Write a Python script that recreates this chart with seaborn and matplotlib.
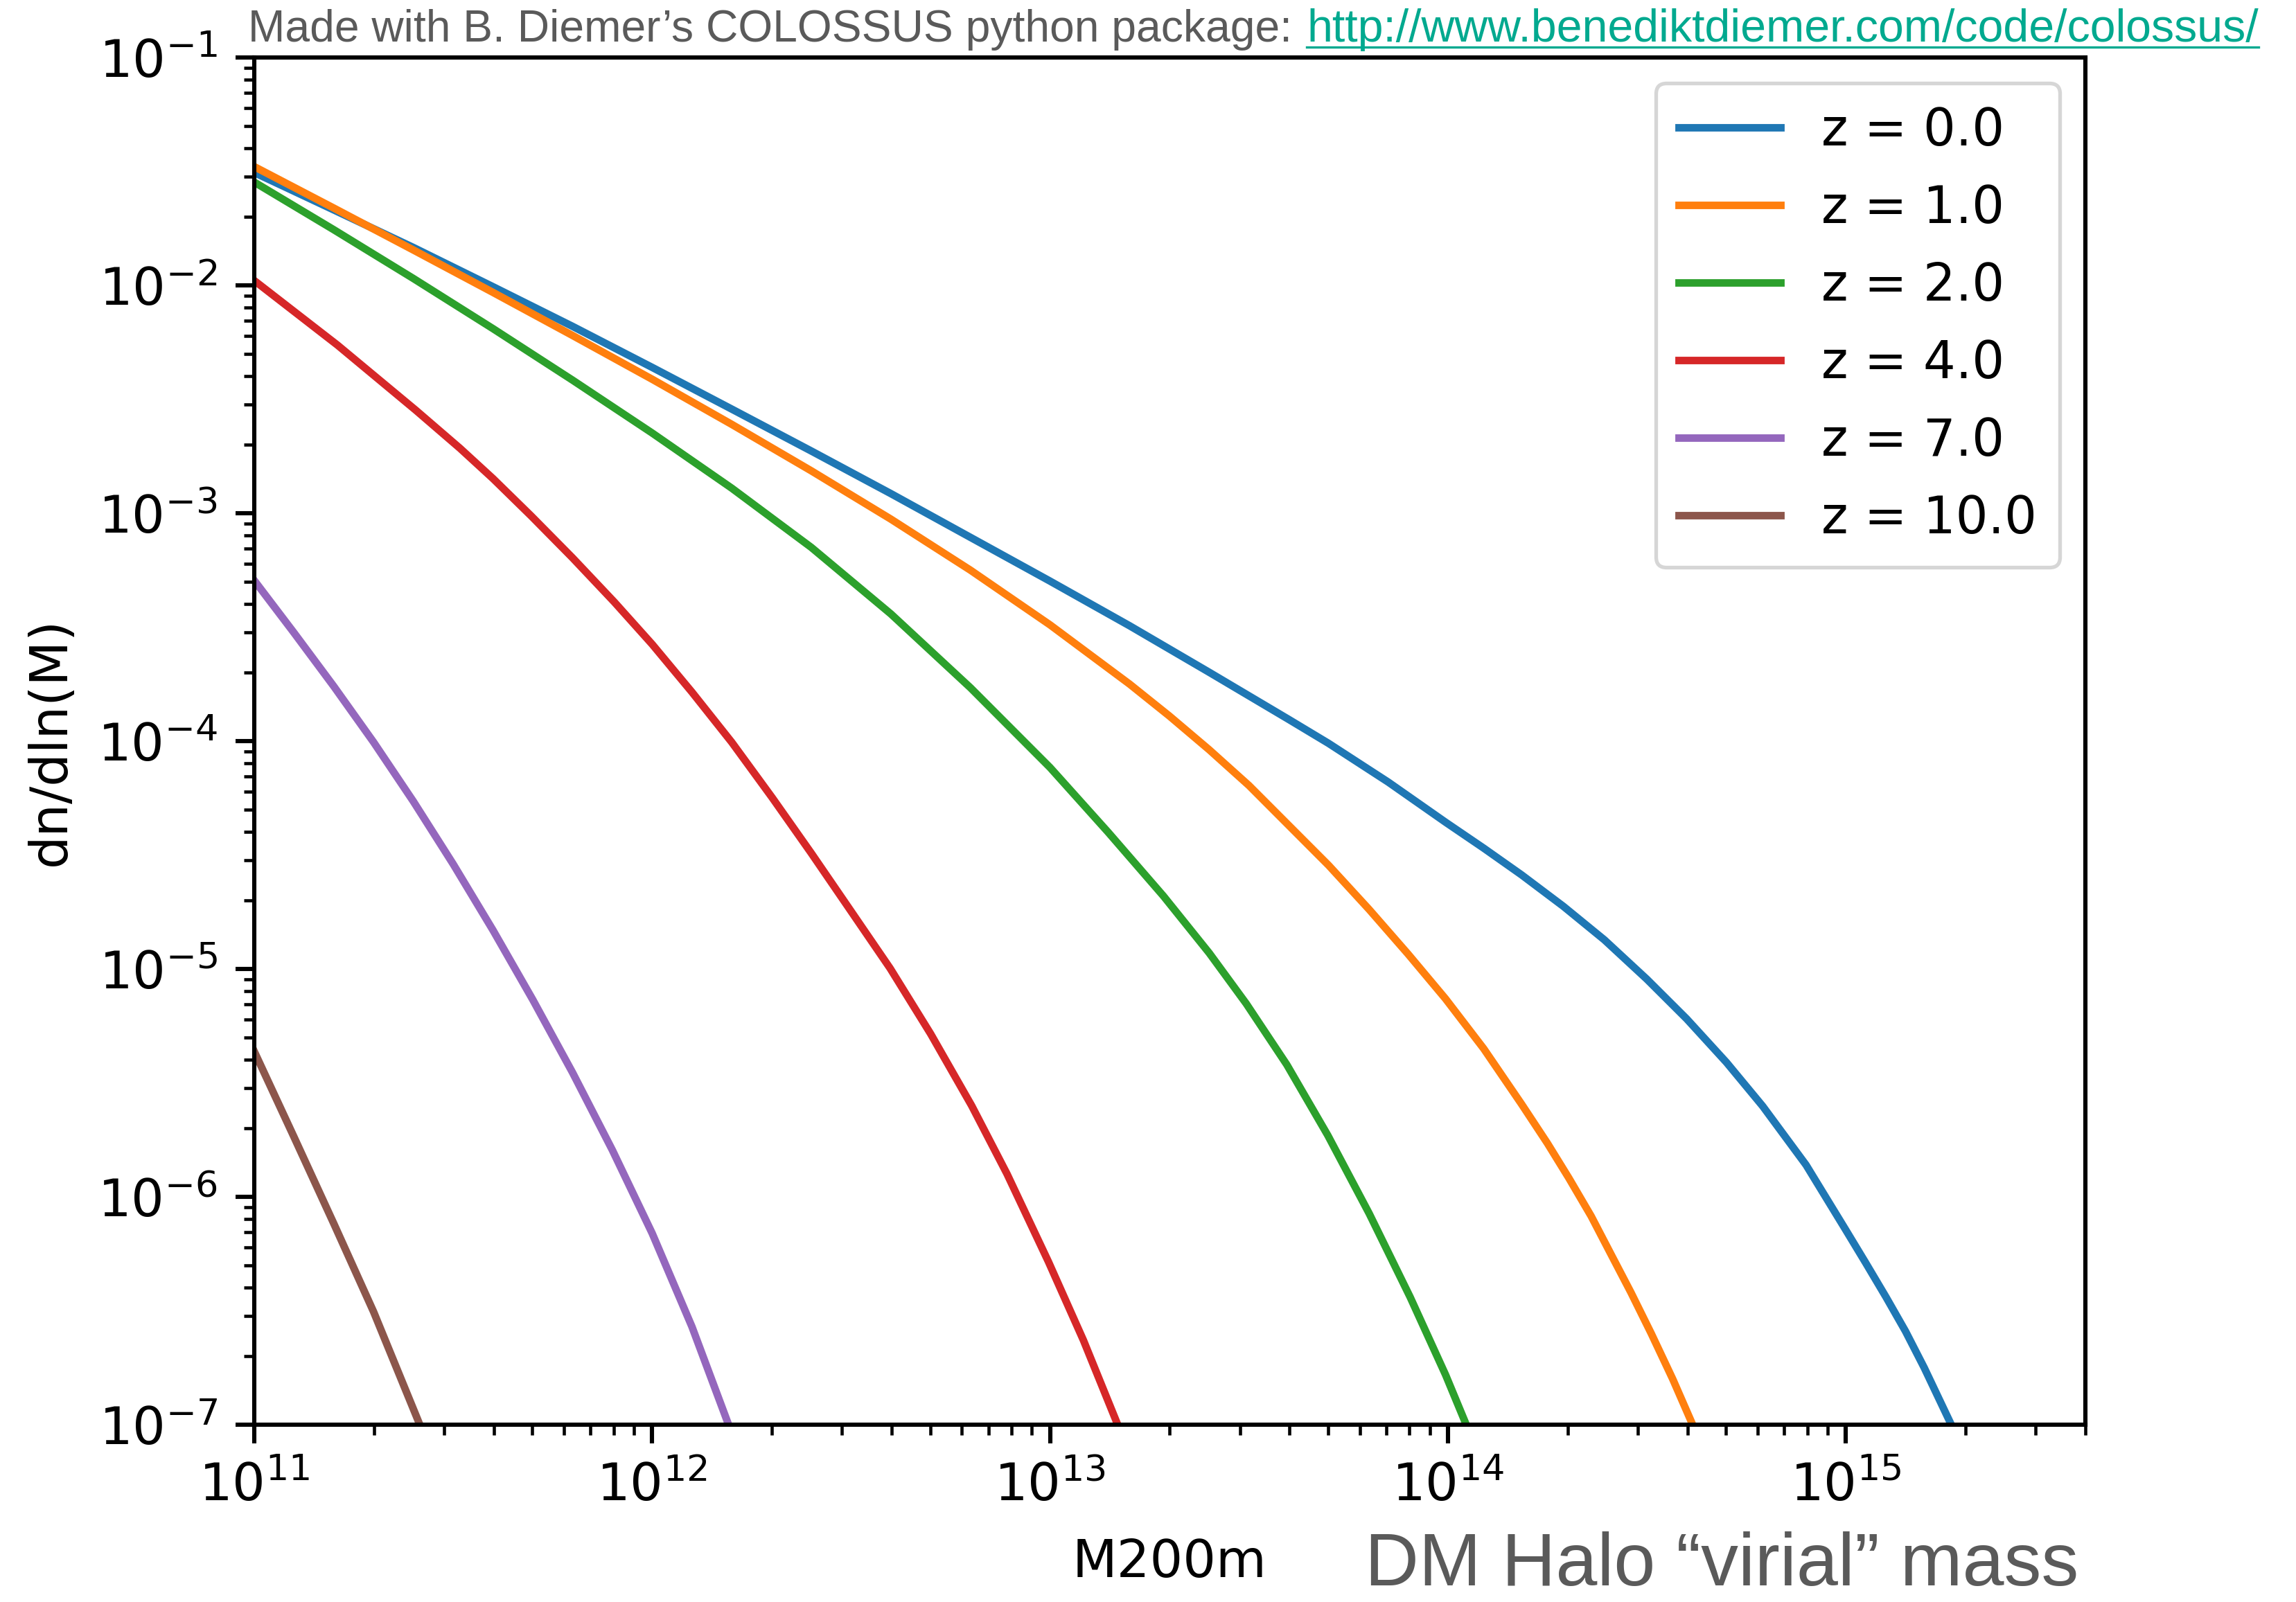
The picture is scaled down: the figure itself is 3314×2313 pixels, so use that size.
import numpy as np
import pandas as pd
import matplotlib
matplotlib.use("Agg")
import matplotlib.pyplot as plt
import seaborn as sns
from matplotlib.lines import Line2D

# ---------------- data (log10 values) ----------------
z_labels = ["z = 0.0", "z = 1.0", "z = 2.0", "z = 4.0", "z = 7.0", "z = 10.0"]
line_colors = ["#1f77b4", "#ff7f0e", "#2ca02c", "#d62728", "#9467bd", "#8c564b"]

logM_z0 = [11.0, 11.2, 11.4, 11.6, 11.8, 12.0, 12.2, 12.4, 12.6, 12.8, 13.0, 13.2, 13.4,
           13.6, 13.7, 13.85, 13.994, 14.09, 14.185, 14.29, 14.393, 14.5, 14.6, 14.7,
           14.791, 14.9, 14.998, 15.05, 15.101, 15.15, 15.197, 15.265]
logn_z0 = [-1.505, -1.669, -1.834, -2.006, -2.180, -2.360, -2.543, -2.727, -2.914, -3.106,
           -3.298, -3.494, -3.698, -3.905, -4.010, -4.180, -4.356, -4.470, -4.587, -4.725,
           -4.872, -5.045, -5.219, -5.410, -5.602, -5.860, -6.140, -6.290, -6.440, -6.590,
           -6.750, -7.0]

logM_z1 = [11.0, 11.2, 11.4, 11.6, 11.8, 12.0, 12.2, 12.4, 12.6, 12.8, 13.0, 13.2, 13.3,
           13.4, 13.5, 13.6, 13.7, 13.802, 13.9, 13.994, 14.09, 14.185, 14.25, 14.304,
           14.36, 14.408, 14.46, 14.511, 14.565, 14.615]
logn_z1 = [-1.479, -1.661, -1.845, -2.031, -2.220, -2.412, -2.610, -2.814, -3.026, -3.250,
           -3.490, -3.750, -3.890, -4.038, -4.195, -4.370, -4.545, -4.739, -4.935, -5.131,
           -5.350, -5.593, -5.765, -5.918, -6.085, -6.246, -6.420, -6.600, -6.800, -7.0]

logM_z2 = [11.0, 11.2, 11.4, 11.6, 11.8, 12.0, 12.2, 12.4, 12.6, 12.8, 13.0, 13.146, 13.285,
           13.4, 13.493, 13.595, 13.698, 13.802, 13.905, 13.994, 14.046]
logn_z2 = [-1.547, -1.756, -1.970, -2.190, -2.416, -2.648, -2.890, -3.150, -3.442, -3.766,
           -4.116, -4.400, -4.680, -4.930, -5.152, -5.420, -5.730, -6.073, -6.440, -6.781, -7.0]

logM_z4 = [11.0, 11.209, 11.406, 11.517, 11.6, 11.696, 11.8, 11.905, 12.0, 12.1, 12.2, 12.302,
           12.4, 12.493, 12.598, 12.7, 12.803, 12.892, 12.996, 13.084, 13.170]
logn_z4 = [-1.979, -2.262, -2.548, -2.715, -2.848, -3.012, -3.196, -3.390, -3.575, -3.785,
           -4.005, -4.249, -4.492, -4.729, -4.997, -5.285, -5.600, -5.900, -6.285, -6.630, -7.0]

logM_z7 = [11.0, 11.1, 11.2, 11.3, 11.4, 11.5, 11.6, 11.7, 11.8, 11.9, 12.0, 12.1, 12.192]
logn_z7 = [-3.295, -3.525, -3.760, -4.005, -4.265, -4.540, -4.830, -5.135, -5.455, -5.795,
           -6.160, -6.570, -7.0]

logM_z10 = [11.0, 11.1, 11.2, 11.3, 11.416]
logn_z10 = [-5.362, -5.738, -6.118, -6.505, -7.0]

series = [(z_labels[0], logM_z0, logn_z0), (z_labels[1], logM_z1, logn_z1),
          (z_labels[2], logM_z2, logn_z2), (z_labels[3], logM_z4, logn_z4),
          (z_labels[4], logM_z7, logn_z7), (z_labels[5], logM_z10, logn_z10)]

rows = []
for lab, lm, ln in series:
    for a, b in zip(lm, ln):
        rows.append((lab, 10.0 ** a, 10.0 ** b))
df = pd.DataFrame(rows, columns=["z", "M200m", "dndlnM"])

# ---------------- figure ----------------
W, H, DPI = 3314, 2313, 200
S = 2.75
FS = 27.0
LW = 3.9

fig = plt.figure(figsize=(W / DPI, H / DPI), dpi=DPI)
fig.patch.set_facecolor("white")
ax = fig.add_axes([367 / W, 1 - 2057 / H, (3010 - 367) / W, (2057 - 83) / H])
ax.set_xscale("log")
ax.set_yscale("log")

sns.lineplot(data=df, x="M200m", y="dndlnM", hue="z", hue_order=z_labels,
             palette=line_colors, sort=False, estimator=None, linewidth=LW, ax=ax)

ax.set_xlim(1e11, 4e15)
ax.set_ylim(1e-7, 1e-1)
ax.set_xlabel("M200m", fontsize=FS, labelpad=4 * S + 2)
ax.set_ylabel("dn/dln(M)", fontsize=FS, labelpad=4 * S)

ax.tick_params(which="major", length=3.5 * S, width=0.8 * S, labelsize=FS, pad=3.5 * S)
ax.tick_params(which="minor", length=2 * S, width=0.6 * S)
for sp in ax.spines.values():
    sp.set_linewidth(0.8 * S)

old = ax.get_legend()
handles = list(old.legend_handles)
for h in handles:
    h.set_linewidth(LW)
old.remove()
leg = ax.legend(handles, z_labels, loc="upper right", fontsize=26.5,
                labelspacing=0.53, borderpad=0.45)
leg.get_frame().set_linewidth(0.7 * S)

# ---------------- annotations ----------------
grey = "#5a5a5a"
teal = "#00a98f"
fig.text(358 / W, 1 - 60 / H, "Made with B. Diemer\u2019s COLOSSUS python package:",
         fontsize=23.1, family="Liberation Sans", color=grey, ha="left", va="baseline")
url = fig.text(1886 / W, 1 - 60 / H, "http://www.benediktdiemer.com/code/colossus/",
               fontsize=23.85, family="Liberation Sans", color=teal, ha="left", va="baseline")
fig.canvas.draw()
bb = url.get_window_extent()
x0, x1 = bb.x0 / W, bb.x1 / W
fig.add_artist(Line2D([x0, x1], [1 - 68 / H, 1 - 68 / H], transform=fig.transFigure,
                      color=teal, linewidth=1.2))

fig.text(3000 / W, 1.5 / H, "DM Halo \u201cvirial\u201d mass", fontsize=38.8,
         family="Liberation Sans", color=grey, ha="right", va="bottom")

fig.savefig("out.png", dpi=DPI)
